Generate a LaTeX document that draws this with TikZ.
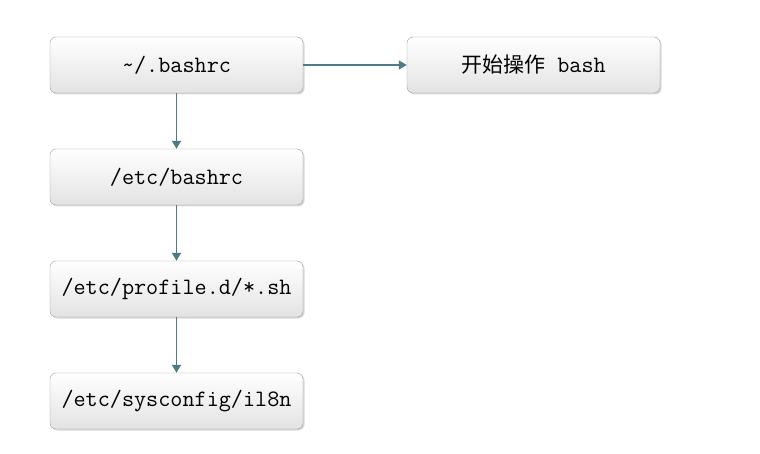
\documentclass[tikz,border=0pt]{standalone}
\usepackage{fontspec}
\newfontfamily\cjk{Noto Sans CJK SC}
\usetikzlibrary{arrows.meta,shadows}
\definecolor{linkcol}{HTML}{4E7C84}
\definecolor{boxline}{HTML}{9A9A9A}

\begin{document}
\begin{tikzpicture}
  [x=1pt,y=-1pt,
   every node/.style={draw=boxline,rounded corners=6pt,minimum width=253pt,minimum height=56pt,
     top color=white,bottom color=black!11,font=\ttfamily\fontsize{23.5}{26}\selectfont,
     drop shadow={shadow xshift=1.5pt,shadow yshift=-1.5pt,opacity=.3}},
   link/.style={draw=linkcol,line width=1.6pt,-{Triangle[width=9pt,length=8pt]}}]
  \useasboundingbox (0,0) rectangle (760,454);
  \node (rc) at (176.5,65) {\textasciitilde/.bashrc};
  \node (start) at (533.5,65) {{\cjk\fontsize{21}{26}\selectfont 开始操作} bash};
  \node (etcrc) at (176.5,177) {/etc/bashrc};
  \node (prof) at (176.5,289) {/etc/profile.d/*.sh};
  \node (i18n) at (176.5,401) {/etc/sysconfig/il8n};
  \foreach \from/\to in {rc/start, rc/etcrc, etcrc/prof, prof/i18n}
    \draw [link] (\from) -- (\to);
\end{tikzpicture}
\end{document}
